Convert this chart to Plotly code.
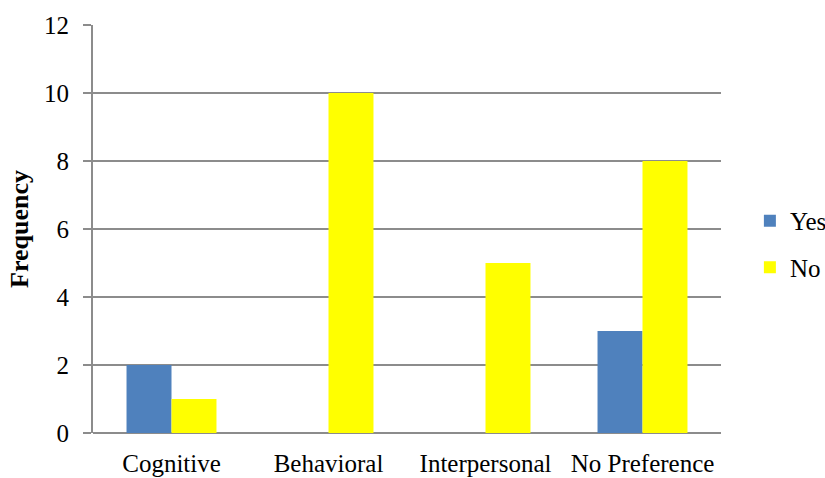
import plotly.graph_objects as go

categories = ["Cognitive", "Behavioral", "Interpersonal", "No Preference"]
yes_values = [2, 0, 0, 3]
no_values = [1, 10, 5, 8]
y_ticks = [0, 2, 4, 6, 8, 10, 12]

FONT = "Liberation Serif, Times New Roman, serif"
GRID = "#8c8c8c"
SIZE = 25

fig = go.Figure()
fig.add_trace(go.Bar(x=categories, y=yes_values, name="Yes",
                     marker=dict(color="#4f81bd", line=dict(width=0)),
                     legendgroup="yes"))
fig.add_trace(go.Bar(x=categories, y=no_values, name="No",
                     marker=dict(color="#ffff00", line=dict(width=0)),
                     legendgroup="no"))

fig.update_layout(
    width=825, height=478,
    margin=dict(l=93, r=104, t=25, b=45, autoexpand=False),
    paper_bgcolor="white", plot_bgcolor="white",
    barmode="group", bargap=0.427, bargroupgap=0,
    font=dict(family=FONT, size=SIZE, color="black"),
    legend=dict(x=1.046, y=0.576, xanchor="left", yanchor="top",
                traceorder="grouped", tracegroupgap=11, itemwidth=30,
                font=dict(family=FONT, size=SIZE)),
    xaxis=dict(showgrid=False, showline=False, ticks="",
               ticklabelstandoff=13,
               tickfont=dict(family=FONT, size=SIZE)),
    yaxis=dict(range=[0, 12], tickvals=y_ticks, showgrid=True,
               gridcolor=GRID, gridwidth=2, showline=True,
               linecolor=GRID, linewidth=2, ticks="outside",
               ticklen=8, tickcolor=GRID, tickwidth=2,
               ticklabelstandoff=9,
               zeroline=True, zerolinecolor=GRID, zerolinewidth=2,
               tickfont=dict(family=FONT, size=SIZE),
               title=dict(text="<b>Frequency</b>", standoff=8,
                          font=dict(family=FONT, size=26))),
)

fig.write_html("out.html")
